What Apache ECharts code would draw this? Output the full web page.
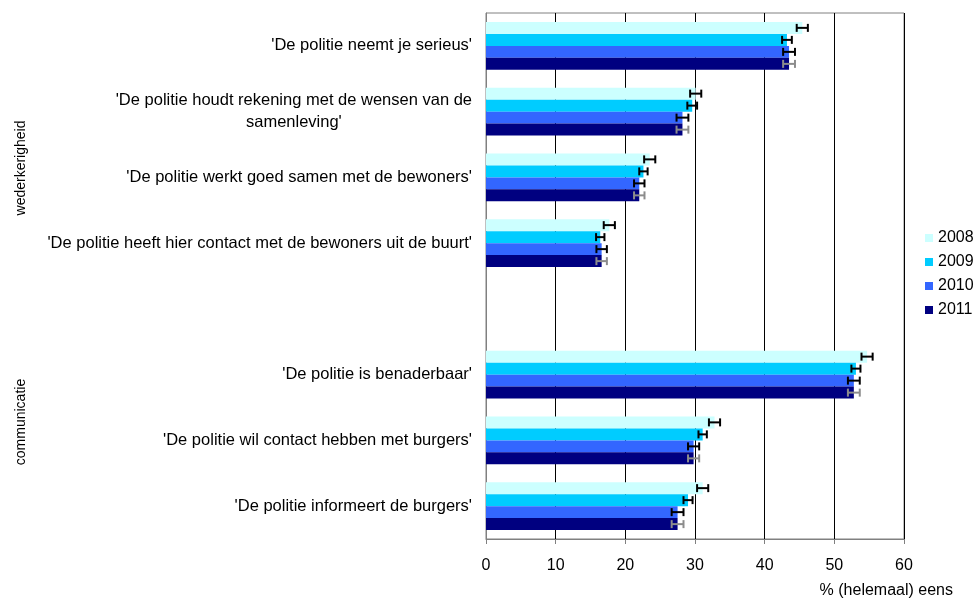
<!DOCTYPE html>
<html>
<head>
<meta charset="utf-8">
<script src="https://cdn.jsdelivr.net/npm/echarts@6/dist/echarts.min.js"></script>
<style>
html,body{margin:0;padding:0;background:#fff;}
#chart{width:977px;height:599px;}
</style>
</head>
<body>
<div id="chart"></div>
<script>
// ---- data ----
const categories = [
  "'De politie neemt je serieus'",
  "'De politie houdt rekening met de wensen van de\nsamenleving'",
  "'De politie werkt goed samen met de bewoners'",
  "'De politie heeft hier contact met de bewoners uit de buurt'",
  "",
  "'De politie is benaderbaar'",
  "'De politie wil contact hebben met burgers'",
  "'De politie informeert de burgers'"
];
const years = ['2008', '2009', '2010', '2011'];
const values2008 = [45.4, 30.1, 23.5, 17.7, null, 54.7, 32.8, 31.1];
const values2009 = [43.2, 29.6, 22.6, 16.4, null, 53.1, 31.1, 29.0];
const values2010 = [43.5, 28.2, 22.0, 16.6, null, 52.8, 29.8, 27.5];
const values2011 = [43.5, 28.2, 22.0, 16.6, null, 52.8, 29.8, 27.5];
const errors2008 = [0.8, 0.8, 0.8, 0.8, null, 0.8, 0.8, 0.8];
const errors2009 = [0.7, 0.7, 0.6, 0.6, null, 0.65, 0.6, 0.65];
const errors2010 = [0.85, 0.85, 0.75, 0.75, null, 0.85, 0.8, 0.85];
const errors2011 = [0.85, 0.85, 0.75, 0.75, null, 0.85, 0.8, 0.85];
const groupLabels = ['wederkerigheid', 'communicatie'];
const xTicks = [0, 10, 20, 30, 40, 50, 60];
const axisTitle = '% (helemaal) eens';

const seriesValues = [values2008, values2009, values2010, values2011];
const seriesErrors = [errors2008, errors2009, errors2010, errors2011];
const colors = ['#CCFFFF', '#00CCFF', '#3366FF', '#000080'];
const errColors = ['#000000', '#000000', '#000000', '#8c8c8c'];
const FONT = "'Liberation Sans', Arial, sans-serif";
const CAT_GAP = 0.27;

const chart = echarts.init(document.getElementById('chart'), null, {renderer: 'canvas'});

const series = [];
years.forEach((y, i) => {
  series.push({
    name: y,
    type: 'bar',
    data: seriesValues[i],
    barGap: '0%',
    barCategoryGap: (CAT_GAP * 100) + '%',
    itemStyle: {color: colors[i]},
    silent: true,
    z: 2
  });
});
years.forEach((y, i) => {
  series.push({
    name: 'err' + y,
    type: 'custom',
    coordinateSystem: 'cartesian2d',
    z: 5,
    silent: true,
    encode: {x: 0, y: 1},
    data: seriesValues[i].map((v, k) => v == null ? null : [v, k, seriesErrors[i][k], i]).filter(d => d),
    renderItem: function (params, api) {
      const v = api.value(0), c = api.value(1), e = api.value(2), si = api.value(3);
      const center = api.coord([v, c]);
      const band = api.size([0, 1])[1];
      const bw = band * (1 - CAT_GAP) / years.length;
      const yy = center[1] - bw * years.length / 2 + (si + 0.5) * bw;
      const x1 = api.coord([v - e, c])[0];
      const x2 = api.coord([v + e, c])[0];
      const cap = 4;
      const st = {stroke: errColors[si], lineWidth: 2};
      return {
        type: 'group',
        children: [
          {type: 'line', shape: {x1: x1, y1: yy, x2: x2, y2: yy}, style: st},
          {type: 'line', shape: {x1: x1, y1: yy - cap, x2: x1, y2: yy + cap}, style: st},
          {type: 'line', shape: {x1: x2, y1: yy - cap, x2: x2, y2: yy + cap}, style: st}
        ]
      };
    }
  });
});

const option = {
  animation: false,
  backgroundColor: '#ffffff',
  textStyle: {fontFamily: FONT},
  grid: {
    left: 486, right: 73, top: 13, bottom: 59,
    show: true, borderColor: '#808080', borderWidth: 1, containLabel: false
  },
  legend: {
    data: years,
    orient: 'vertical',
    left: 925,
    top: 230,
    padding: 0,
    itemWidth: 8,
    itemHeight: 8,
    itemGap: 8,
    icon: 'rect',
    textStyle: {fontSize: 16, color: '#000', fontFamily: FONT},
    selectedMode: false
  },
  xAxis: {
    type: 'value',
    min: xTicks[0],
    max: xTicks[xTicks.length - 1],
    interval: xTicks[1] - xTicks[0],
    axisLine: {show: true, lineStyle: {color: '#808080', width: 1}},
    axisTick: {show: true, length: 5, lineStyle: {color: '#808080'}},
    axisLabel: {fontSize: 16, color: '#000', margin: 19, fontFamily: FONT},
    splitLine: {show: true, lineStyle: {color: '#000', width: 1}},
    name: axisTitle,
    nameLocation: 'end',
    nameGap: 49,
    nameTextStyle: {fontSize: 16, color: '#000', align: 'right', verticalAlign: 'top', padding: [44, 0, 0, 0], fontFamily: FONT}
  },
  yAxis: {
    type: 'category',
    inverse: true,
    data: categories,
    axisLine: {show: true, lineStyle: {color: '#808080'}},
    axisTick: {show: false},
    axisLabel: {
      interval: 0,
      fontSize: 16.5,
      color: '#000',
      margin: 14,
      lineHeight: 22,
      fontFamily: FONT,
      formatter: function (v) {
        if (v.indexOf('\n') < 0) return v;
        return v.split('\n').map((s, idx) => idx === 0 ? s : '{c|' + s + '}').join('\n');
      },
      rich: {c: {align: 'center', fontSize: 16.5, color: '#000', lineHeight: 22, fontFamily: FONT}}
    },
    splitLine: {show: false}
  },
  graphic: [
    {type: 'text', x: 21, y: 168, rotation: Math.PI / 2,
      style: {text: groupLabels[0], fontSize: 14, fill: '#000', align: 'center', verticalAlign: 'middle', fontFamily: FONT}},
    {type: 'text', x: 21, y: 422, rotation: Math.PI / 2,
      style: {text: groupLabels[1], fontSize: 14, fill: '#000', align: 'center', verticalAlign: 'middle', fontFamily: FONT}}
  ],
  series: series
};
chart.setOption(option);
</script>
</body>
</html>
